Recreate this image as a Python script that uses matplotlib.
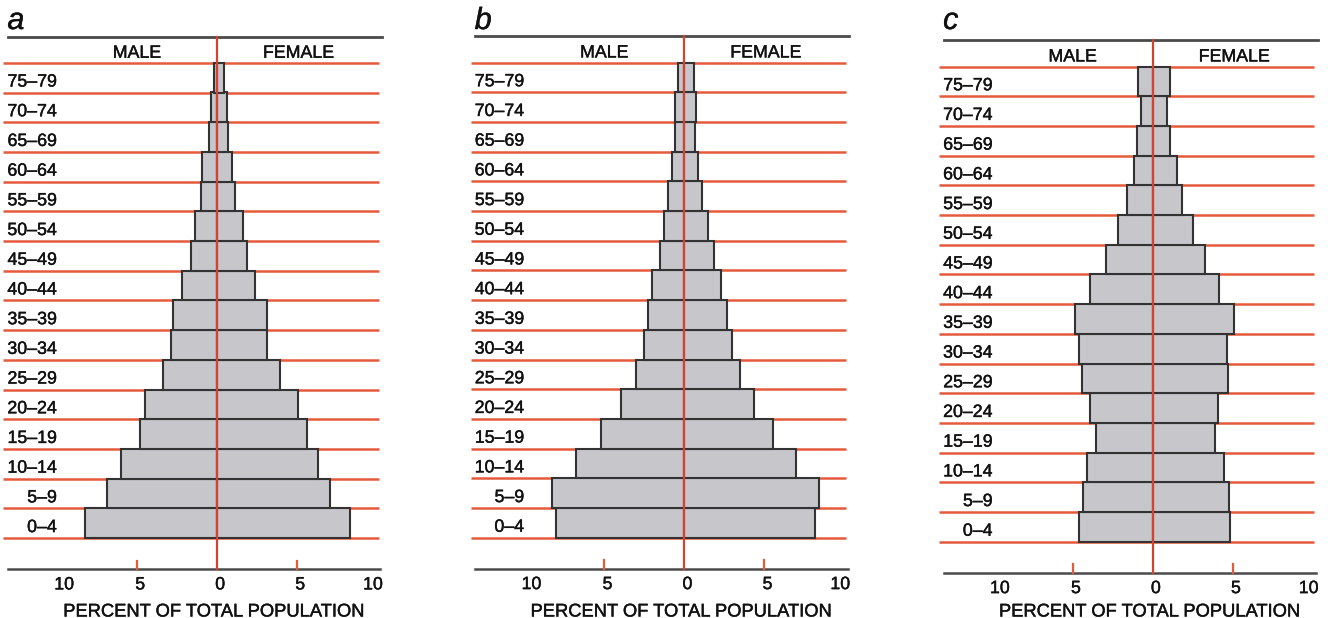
import matplotlib
matplotlib.use("Agg")
import matplotlib.pyplot as plt
import matplotlib.patheffects as pe

plt.rcParams['font.family'] = ['Liberation Sans', 'DejaVu Sans']

age_groups = ["0–4", "5–9", "10–14", "15–19", "20–24", "25–29", "30–34", "35–39",
              "40–44", "45–49", "50–54", "55–59", "60–64", "65–69", "70–74", "75–79"]

# percent of total population, youngest group first
male_a = [8.25, 6.9, 6.0, 4.8, 4.5, 3.4, 2.9, 2.75, 2.2, 1.65, 1.4, 1.0, 0.95, 0.5, 0.4, 0.2]
female_a = [8.3, 7.05, 6.3, 5.6, 5.05, 3.95, 3.15, 3.1, 2.35, 1.85, 1.6, 1.15, 0.95, 0.7, 0.6, 0.45]

male_b = [8.05, 8.25, 6.8, 5.2, 3.95, 3.0, 2.5, 2.3, 2.0, 1.55, 1.3, 1.05, 0.75, 0.6, 0.6, 0.4]
female_b = [8.15, 8.4, 7.0, 5.55, 4.35, 3.5, 2.95, 2.65, 2.3, 1.85, 1.5, 1.1, 0.85, 0.65, 0.7, 0.6]

male_c = [4.6, 4.35, 4.1, 3.55, 3.9, 4.45, 4.6, 4.85, 3.9, 2.95, 2.2, 1.6, 1.2, 1.0, 0.75, 0.95]
female_c = [4.8, 4.75, 4.45, 3.9, 4.1, 4.7, 4.65, 5.05, 4.15, 3.25, 2.5, 1.85, 1.5, 1.1, 0.9, 1.05]

panel_labels = ["a", "b", "c"]
tick_values = [-10, -5, 0, 5, 10]
tick_texts = ["10", "5", "0", "5", "10"]

RED = "#e65a3c"
CENTER_RED = "#d4432f"
BAR_FILL = "#c6c6cb"
BAR_EDGE = "#333333"
RULE = "#4a4a4a"
INK = "#111111"

W, H = 1328, 618
PX_PER_X = 16.0
PX_PER_Y = 29.7
XMIN, XMAX = -13.5, 10.5
FS = 12.8

heavy = [pe.withStroke(linewidth=0.3, foreground=INK)]

fig = plt.figure(figsize=(W / 100, H / 100), dpi=100)

panels = [
    (male_a, female_a, 217.0, 538.0),
    (male_b, female_b, 684.3, 537.7),
    (male_c, female_c, 1152.7, 541.7),
]


def txt(ax, x, y, s, **kw):
    kw.setdefault("fontsize", FS)
    kw.setdefault("color", INK)
    t = ax.text(x, y, s, path_effects=heavy, **kw)
    t.set_clip_on(False)
    return t


for (males, females, cx, y0), letter in zip(panels, panel_labels):
    left_px = cx + XMIN * PX_PER_X
    width_px = (XMAX - XMIN) * PX_PER_X
    ax = fig.add_axes([left_px / W, 0, width_px / W, 1])
    ax.set_xlim(XMIN, XMAX)
    ax.set_ylim((y0 - H) / PX_PER_Y, y0 / PX_PER_Y)
    ax.axis("off")

    def ypx(p):
        # vertical position given in pixels from the top of the figure
        return (y0 - p) / PX_PER_Y

    n = len(age_groups)
    top_rule = n + 0.88
    base = -1.04

    # band separators
    for k in range(n + 1):
        ax.plot([-13.35, 10.1], [k, k], color=RED, lw=1.8, zorder=1,
                solid_capstyle="butt")

    # bars for each sex
    ys = [i + 0.5 for i in range(n)]
    ax.barh(ys, [-m for m in males], height=1.0, left=0, color=BAR_FILL,
            edgecolor=BAR_EDGE, linewidth=1.5, zorder=3)
    ax.barh(ys, females, height=1.0, left=0, color=BAR_FILL,
            edgecolor=BAR_EDGE, linewidth=1.5, zorder=3)

    # top rule, base axis and centre line
    ax.plot([-13.05, 10.3], [top_rule, top_rule], color=RULE, lw=2.0, zorder=2)
    ax.plot([-13.05, 10.2], [base, base], color=RULE, lw=1.8, zorder=2)
    ax.plot([0, 0], [base, top_rule], color=CENTER_RED, lw=1.6, zorder=4)
    for t in (-5, 5):
        ax.plot([t, t], [base, base + 0.28], color=RED, lw=1.6, zorder=2)

    # tick labels
    for v, s in zip(tick_values, tick_texts):
        shift = 0.45 if v == -10 else (-0.25 if v == 10 else 0.2)
        txt(ax, v + shift, base - 0.69, s, ha="center", va="baseline")

    txt(ax, -0.2, ypx(616.5), "PERCENT OF TOTAL POPULATION", ha="center",
        va="baseline", fontsize=13.2)

    txt(ax, -5, n + 0.17, "MALE", ha="center", va="baseline")
    txt(ax, 5.1, n + 0.17, "FEMALE", ha="center", va="baseline")

    for i, lab in enumerate(age_groups):
        txt(ax, -10.0, i + 0.2, lab, ha="right", va="baseline")

    txt(ax, -13.1, ypx(29), letter, ha="left", va="baseline", fontsize=22,
        style="italic")

fig.savefig("out.png", dpi=100)
